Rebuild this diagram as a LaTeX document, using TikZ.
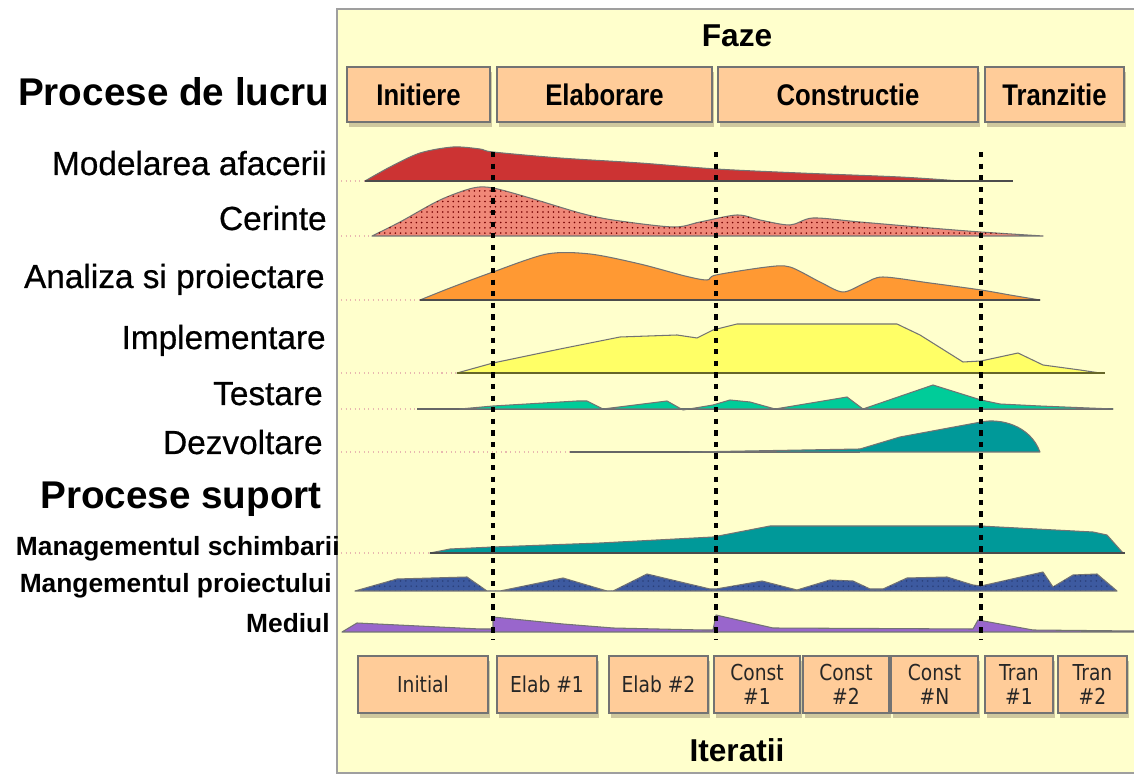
\documentclass[tikz,border=0pt]{standalone}
\usepackage{fontspec}
\setmainfont{Liberation Sans}
\newfontfamily\narrowfont[FakeStretch=0.86]{Liberation Sans}
\newfontfamily\labelfont[FakeBold=0.6]{Liberation Sans}
\newfontfamily\iterfont[FakeStretch=0.85]{DejaVu Sans}
\usetikzlibrary{patterns}
\usetikzlibrary{shadows}

\definecolor{panelc}{HTML}{FFFFCC}
\definecolor{boxc}{HTML}{FFCC99}
\definecolor{shadowc}{HTML}{CFC89E}
\definecolor{guidec}{HTML}{E8B8B0}
\definecolor{redc}{HTML}{CC3333}
\definecolor{salmonc}{HTML}{F08878}
\definecolor{orangec}{HTML}{FF9933}
\definecolor{yellowc}{HTML}{FFFF66}
\definecolor{greenc}{HTML}{00CC99}
\definecolor{tealc}{HTML}{009999}
\definecolor{bluec}{HTML}{3D5AA0}
\definecolor{bluedotc}{HTML}{2A3F78}
\definecolor{purplec}{HTML}{9966CC}

\tikzset{
	boxstyle/.style={draw=black!55, fill=boxc, line width=0.8pt, inner sep=0pt,
		drop shadow={shadow xshift=1pt, shadow yshift=-3pt, fill=shadowc, opacity=1}},
	curve/.style={draw=black!55, line width=0.6pt, line join=round},
	phaseline/.style={black, line width=2.5pt, dash pattern=on 3pt off 3.6pt},
	guideline/.style={guidec, line width=0.6pt, dotted},
	lbl/.style={anchor=base east, inner sep=0pt, font=\labelfont\fontsize{19}{22}\selectfont},
	lblbig/.style={anchor=base east, inner sep=0pt, font=\bfseries\fontsize{22}{26}\selectfont},
	lblsup/.style={anchor=base east, inner sep=0pt, font=\bfseries\fontsize{15}{18}\selectfont}
}

\newcommand{\fazabox}[6] % name, left x, right x, top y, bottom y, text (px)
{
	\node[boxstyle, minimum width={(#3-#2)*0.02cm}, minimum height={(#5-#4)*0.02cm},
		font=\narrowfont\bfseries\fontsize{17}{20}\selectfont]
		(#1) at ({(#2+#3)/2},{(#4+#5)/2}) {#6};
}

\newcommand{\iterbox}[6] % name, left x, right x, top y, bottom y, text (px)
{
	\node[boxstyle, minimum width={(#3-#2)*0.02cm}, minimum height={(#5-#4)*0.02cm},
		align=center, text=black!85, font=\iterfont\fontsize{12.5}{14}\selectfont]
		(#1) at ({(#2+#3)/2},{(#4+#5)/2}) {#6};
}

\begin{document}
\begin{tikzpicture}[x=0.02cm, y=-0.02cm]
	% page 1134 x 776 px, 1px = 0.02cm
	\useasboundingbox (0,0) rectangle (1134,776);
	\fill[white] (0,0) rectangle (1134,776);
	% yellow panel
	\draw[gray!75, line width=1.2pt, fill=panelc] (337,9) rectangle (1150,773);
	\node[anchor=base, font=\bfseries\fontsize{18}{22}\selectfont] (faze) at (737,47) {Faze};
	\node[anchor=base, font=\bfseries\fontsize{18}{22}\selectfont] (iteratii) at (737,762) {Iteratii};

	% phases
	\fazabox{initiere}{347}{490}{67}{122}{Initiere}
	\fazabox{elaborare}{497}{712}{67}{122}{Elaborare}
	\fazabox{constructie}{718}{978}{67}{122}{Constructie}
	\fazabox{tranzitie}{985}{1124}{67}{122}{Tranzitie}

	% iterations
	\iterbox{initial}{358}{488}{656}{713}{Initial}
	\iterbox{elab1}{497}{597}{656}{713}{Elab \#1}
	\iterbox{elab2}{609}{708}{656}{713}{Elab \#2}
	\iterbox{const1}{714}{800}{656}{713}{Const\\\#1}
	\iterbox{const2}{803}{889}{656}{713}{Const\\\#2}
	\iterbox{constn}{891}{978}{656}{713}{Const\\\#N}
	\iterbox{tran1}{985}{1053}{656}{713}{Tran\\\#1}
	\iterbox{tran2}{1058}{1127}{656}{713}{Tran\\\#2}

	% labels
	\node[lblbig] (proclucru) at (330,106) {Procese de lucru};
	\node[lbl] (modaf) at (327,175) {Modelarea afacerii};
	\node[lbl] (cerinte) at (327,230) {Cerinte};
	\node[lbl] (analiza) at (325,288) {Analiza si proiectare};
	\node[lbl] (implem) at (326,349) {Implementare};
	\node[lbl] (testare) at (323,405) {Testare};
	\node[lbl] (dezvolt) at (323,454) {Dezvoltare};
	\node[lblbig] (procsup) at (322,509) {Procese suport};
	\node[lblsup] (mansch) at (340,556) {Managementul schimbarii};
	\node[lblsup] (manpro) at (332,593) {Mangementul proiectului};
	\node[lblsup] (mediul) at (330,633) {Mediul};

	% guide lines
	\foreach \y/\x in {181/365, 236/372, 300/420, 373/457, 409/417, 452/570, 553/430}
		\draw[guideline] (341,\y) -- (\x,\y);

	% modelarea afacerii
	\filldraw[curve, fill=redc] plot[smooth, tension=0.5] coordinates {(365,181) (390,167) (420,153) (453,147) (480,149) (493,152) (560,158) (640,163) (716,169) (800,173) (900,177) (960,181)} -- cycle;
	\draw[black!70, line width=1pt] (365,181) -- (1013,181);
	% cerinte
	\filldraw[curve, fill=salmonc, postaction={pattern=dots, pattern color=red!45!black}] plot[smooth, tension=0.5] coordinates {(372,236) (400,222) (440,200) (473,188) (493,188) (530,198) (580,213) (613,220) (673,227) (700,222) (737,215) (760,220) (790,225) (813,218) (860,222) (930,228) (981,232) (1043,236)} -- cycle;
	% analiza si proiectare
	\filldraw[curve, fill=orangec] plot[smooth, tension=0.5] coordinates {(420,300) (450,288) (493,272) (547,254) (590,254) (640,264) (685,276) (707,280) (716,275) (767,267) (790,267) (820,282) (843,292) (865,283) (883,277) (930,283) (981,290) (1010,295) (1040,300)} -- cycle;
	\draw[black!70, line width=1pt] (420,300) -- (1040,300);
	% implementare
	\filldraw[curve, fill=yellowc] (457,373) -- (493,363) -- (560,349) -- (620,337) -- (677,335) -- (697,338) -- (713,330) -- (737,324) -- (897,324) -- (920,335) -- (963,362) -- (981,361) -- (1018,353) -- (1043,365) -- (1080,370) -- (1100,373) -- cycle;
	\draw[yellowc!40!black, line width=1pt] (457,373) -- (1105,373);
	% testare
	\draw[black!60, line width=1pt] (417,409) -- (1113,409);
	\filldraw[curve, fill=greenc] (460,409) -- (493,406) -- (577,401) -- (587,401) -- (603,409) -- (667,401) -- (683,410) -- (713,405) -- (730,400) -- (750,402) -- (775,409) -- (847,397) -- (863,409) -- (933,385) -- (981,400) -- (1000,404) -- (1040,406) -- (1113,409) -- cycle;
	% dezvoltare
	\draw[black!60, line width=1pt] (570,452) -- (860,452);
	\filldraw[curve, fill=tealc] (690,452) -- (860,449) -- (900,437) -- (981,422) .. controls (1000,418) and (1030,425) .. (1040,452) -- cycle;

	% managementul schimbarii
	\filldraw[curve, fill=tealc] (430,553) -- (450,549) -- (493,547) -- (600,543) -- (713,537) -- (770,526) -- (980,526) -- (1093,532) -- (1107,535) -- (1123,553) -- cycle;
	\draw[black!70, line width=1pt] (430,553) -- (1125,553);
	% mangementul proiectului
	\filldraw[curve, fill=bluec, postaction={pattern=dots, pattern color=bluedotc}] (355,591) -- (397,579) -- (467,577) -- (487,591) -- (500,591) -- (563,578) -- (607,591) -- (613,591) -- (647,574) -- (710,589) -- (716,589) -- (762,581) -- (797,590) -- (830,580) -- (853,581) -- (870,589) -- (883,589) -- (907,578) -- (947,577) -- (973,585) -- (981,586) -- (1043,572) -- (1053,587) -- (1073,575) -- (1097,574) -- (1117,591) -- cycle;
	% mediul
	\filldraw[curve, fill=purplec] (342,632) -- (357,623) -- (480,629) -- (493,629) -- (493,617) -- (563,624) -- (613,628) -- (703,630) -- (713,630) -- (716,615) -- (773,628) -- (973,629) -- (978,620) -- (1033,630) -- (1134,631) -- (1134,632) -- cycle;

	% phase borders
	\draw[phaseline] (493,152) -- (493,640);
	\draw[phaseline] (716,152) -- (716,640);
	\draw[phaseline] (981,152) -- (981,640);
\end{tikzpicture}
\end{document}
